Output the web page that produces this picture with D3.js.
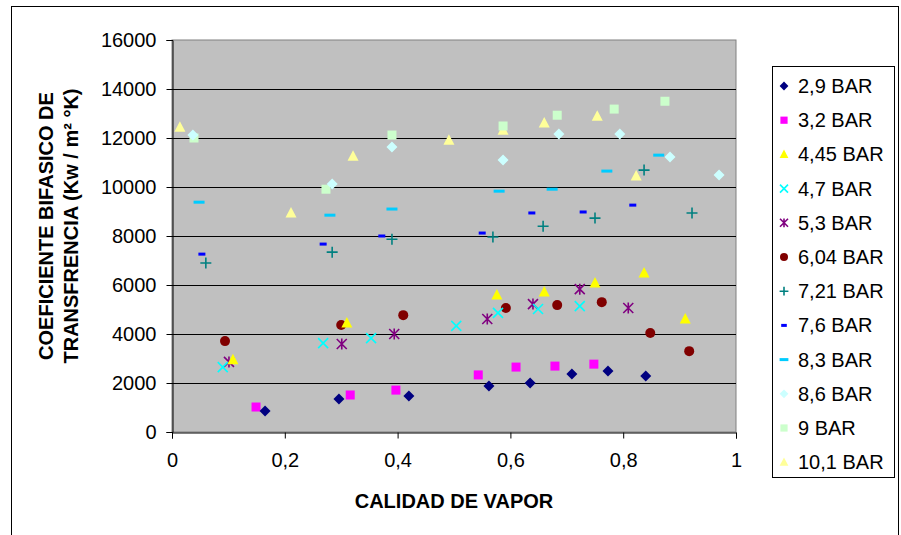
<!DOCTYPE html>
<html>
<head>
<meta charset="utf-8">
<script src="https://cdn.jsdelivr.net/npm/d3@7"></script>
<style>
  body { margin: 0; background: #fff; }
  svg { display: block; font-family: "Liberation Sans", Arial, sans-serif; }
</style>
</head>
<body>
<svg id="chart"></svg>
<script>
// series names, colours, shapes
var seriesNames = ["2,9 BAR", "3,2 BAR", "4,45 BAR", "4,7 BAR", "5,3 BAR", "6,04 BAR",
                   "7,21 BAR", "7,6 BAR", "8,3 BAR", "8,6 BAR", "9 BAR", "10,1 BAR"];
var seriesColors = ["#000080", "#ff00ff", "#ffff00", "#00ffff", "#800080", "#800000",
                    "#008080", "#0000ff", "#00ccff", "#ccffff", "#ccffcc", "#ffff99"];
var seriesShapes = ["diamond", "square", "triangle", "x", "star", "circle",
                    "plus", "dashS", "dashL", "diamond", "square", "triangle"];

// calidad de vapor (x) and coeficiente (y) per series
var x29 = [0.165, 0.296, 0.420, 0.562, 0.635, 0.709, 0.773, 0.840];
var y29 = [860, 1350, 1470, 1880, 2000, 2370, 2490, 2290];
var x32 = [0.149, 0.316, 0.397, 0.543, 0.610, 0.679, 0.748];
var y32 = [1020, 1510, 1710, 2330, 2650, 2690, 2770];
var x445 = [0.108, 0.310, 0.576, 0.660, 0.750, 0.837, 0.910];
var y445 = [2950, 4450, 5590, 5710, 6080, 6490, 4610];
var x47 = [0.090, 0.268, 0.353, 0.504, 0.578, 0.649, 0.723];
var y47 = [2650, 3630, 3830, 4330, 4860, 5020, 5140];
var x53 = [0.101, 0.301, 0.394, 0.559, 0.640, 0.723, 0.809];
var y53 = [2860, 3590, 4000, 4610, 5220, 5830, 5060];
var x604 = [0.094, 0.300, 0.410, 0.592, 0.683, 0.762, 0.848, 0.917];
var y604 = [3710, 4370, 4770, 5060, 5180, 5300, 4040, 3300];
var x721 = [0.060, 0.284, 0.390, 0.569, 0.658, 0.750, 0.837, 0.922];
var y721 = [6900, 7340, 7870, 7960, 8400, 8730, 10690, 8940];
var x76 = [0.053, 0.268, 0.372, 0.550, 0.638, 0.729, 0.817];
var y76 = [7260, 7670, 8000, 8120, 8940, 8980, 9260];
var x83 = [0.048, 0.280, 0.390, 0.580, 0.674, 0.771, 0.863];
var y83 = [9380, 8850, 9100, 9830, 9910, 10650, 11300];
var x86 = [0.037, 0.284, 0.390, 0.587, 0.686, 0.794, 0.883, 0.970];
var y86 = [12120, 10120, 11630, 11100, 12160, 12160, 11220, 10490];
var x9 = [0.039, 0.273, 0.390, 0.587, 0.683, 0.784, 0.874];
var y9 = [12000, 9910, 12120, 12490, 12930, 13180, 13500];
var x101 = [0.014, 0.211, 0.321, 0.491, 0.587, 0.660, 0.754, 0.823];
var y101 = [12440, 8940, 11260, 11910, 12320, 12610, 12890, 10450];

var xTicks = [0, 0.2, 0.4, 0.6, 0.8, 1];
var yTicks = [0, 2000, 4000, 6000, 8000, 10000, 12000, 14000, 16000];

var allX = [x29, x32, x445, x47, x53, x604, x721, x76, x83, x86, x9, x101];
var allY = [y29, y32, y445, y47, y53, y604, y721, y76, y83, y86, y9, y101];

var series = seriesNames.map(function (name, i) {
    return {
        name: name, color: seriesColors[i], shape: seriesShapes[i],
        points: allX[i].map(function (v, j) { return { x: v, y: allY[i][j] }; })
    };
});

///////////////////////////////////////////////////////
// canvas
var svgWidth = 901, svgHeight = 535;
var plot = { left: 172, top: 40, right: 736, bottom: 432 };

var svg = d3.select("#chart")
    .attr("width", svgWidth)
    .attr("height", svgHeight);

// outer chart border
svg.append("rect")
    .attr("x", 11.5).attr("y", 6.5)
    .attr("width", 887).attr("height", 540)
    .attr("fill", "#fff").attr("stroke", "#000");

var x = d3.scaleLinear().domain([0, 1]).range([plot.left, plot.right]);
var y = d3.scaleLinear().domain([0, 16000]).range([plot.bottom, plot.top]);

// plot area
svg.append("rect")
    .attr("x", plot.left).attr("y", plot.top)
    .attr("width", plot.right - plot.left).attr("height", plot.bottom - plot.top)
    .attr("fill", "#c0c0c0").attr("stroke", "#808080");

// gridlines
svg.append("g")
    .selectAll("line")
    .data(yTicks.slice(1, -1))
    .enter()
    .append("line")
    .attr("x1", plot.left).attr("x2", plot.right)
    .attr("y1", d => Math.round(y(d)) + 0.5).attr("y2", d => Math.round(y(d)) + 0.5)
    .attr("stroke", "#000");

// axes
var yAxis = svg.append("g")
    .attr("transform", "translate(" + (plot.left + 0.5) + ",0)")
    .call(d3.axisLeft(y).tickValues(yTicks).tickFormat(d3.format("d")).tickSize(6).tickPadding(10));
var xAxis = svg.append("g")
    .attr("transform", "translate(0," + (plot.bottom + 0.5) + ")")
    .call(d3.axisBottom(x).tickValues(xTicks)
        .tickFormat(d => d === 0 || d === 1 ? String(d) : String(d).replace(".", ","))
        .tickSize(6).tickPadding(14));

[yAxis, xAxis].forEach(function (ax) {
    ax.select(".domain").attr("stroke", "#000");
    ax.selectAll(".tick line").attr("stroke", "#000");
    ax.selectAll("text").attr("font-size", "20px").attr("fill", "#000")
        .attr("font-family", "Liberation Sans, Arial, sans-serif");
});

// axis titles
svg.append("text")
    .attr("x", (plot.left + plot.right) / 2).attr("y", 508)
    .attr("text-anchor", "middle")
    .attr("font-size", "20px").attr("font-weight", "bold")
    .text("CALIDAD DE VAPOR");

var yTitle = svg.append("text")
    .attr("transform", "translate(53,226) rotate(-90)")
    .attr("text-anchor", "middle")
    .attr("font-size", "20px").attr("font-weight", "bold");
yTitle.append("tspan").attr("x", 0).attr("y", 0).text("COEFICIENTE BIFASICO DE");
yTitle.append("tspan").attr("x", 0).attr("y", 25).text("TRANSFRENCIA (Kw / m² °K)");

///////////////////////////////////////////////////////
// markers
function drawMarker(sel, shape, color, s) {
    if (shape === "diamond") {
        var h = 5.5 * s;
        sel.append("path").attr("d", "M0," + (-h) + "L" + h + ",0L0," + h + "L" + (-h) + ",0Z").attr("fill", color);
    } else if (shape === "square") {
        var a = 4.5 * s;
        sel.append("rect").attr("x", -a).attr("y", -a).attr("width", 2 * a).attr("height", 2 * a).attr("fill", color);
    } else if (shape === "triangle") {
        var w = 5.5 * s, t = 6 * s, b = 4.5 * s;
        sel.append("path").attr("d", "M0," + (-t) + "L" + w + "," + b + "L" + (-w) + "," + b + "Z").attr("fill", color);
    } else if (shape === "circle") {
        sel.append("circle").attr("r", 5 * s).attr("fill", color);
    } else if (shape === "x" || shape === "star" || shape === "plus") {
        var r = 5 * s, p = "";
        if (shape !== "plus") p += "M" + (-r) + "," + (-r) + "L" + r + "," + r + "M" + (-r) + "," + r + "L" + r + "," + (-r);
        if (shape !== "x") p += "M0," + (-r * 1.1) + "L0," + (r * 1.1);
        if (shape === "plus") p += "M" + (-r * 1.1) + ",0L" + (r * 1.1) + ",0";
        sel.append("path").attr("d", p).attr("stroke", color).attr("stroke-width", 1.6).attr("fill", "none");
    } else if (shape === "dashS") {
        sel.append("rect").attr("x", -3.5 * s).attr("y", -1.5).attr("width", 7 * s).attr("height", 3).attr("fill", color);
    } else if (shape === "dashL") {
        sel.append("rect").attr("x", -5.5 * s).attr("y", -1.5).attr("width", 11 * s).attr("height", 3).attr("fill", color);
    }
}

// draw series, last ones first so darker ones stay on top
series.slice().reverse().forEach(function (sr) {
    svg.append("g")
        .selectAll("g")
        .data(sr.points)
        .enter()
        .append("g")
        .attr("transform", d => "translate(" + x(d.x) + "," + y(d.y) + ")")
        .each(function () { drawMarker(d3.select(this), sr.shape, sr.color, 1); });
});

///////////////////////////////////////////////////////
// legend
var legend = { left: 772, top: 66, width: 122, height: 411, first: 86, step: 34.2 };
svg.append("rect")
    .attr("x", legend.left + 0.5).attr("y", legend.top + 0.5)
    .attr("width", legend.width).attr("height", legend.height)
    .attr("fill", "#fff").attr("stroke", "#000");

var items = svg.append("g")
    .selectAll("g")
    .data(series)
    .enter()
    .append("g")
    .attr("transform", (d, i) => "translate(" + (legend.left + 12) + "," + (legend.first + i * legend.step) + ")");

items.each(function (d) { drawMarker(d3.select(this), d.shape, d.color, 0.8); });
items.append("text")
    .attr("x", 14).attr("y", 7)
    .attr("font-size", "20px")
    .text(d => d.name);
</script>
</body>
</html>
